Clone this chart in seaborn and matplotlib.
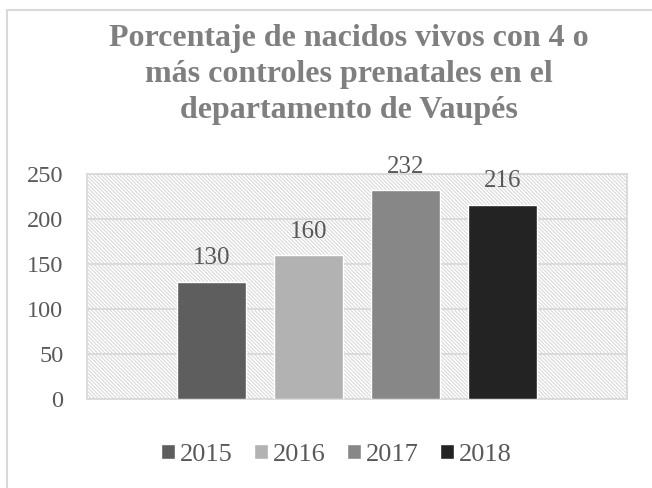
"""
Porcentaje de nacidos vivos con 4 o más controles prenatales - Vaupés
"""

import matplotlib
matplotlib.use("Agg")
import matplotlib.pyplot as plt
import matplotlib.lines as mlines
import pandas as pd
import seaborn as sns

# data
anios = ["2015", "2016", "2017", "2018"]
valores = [130, 160, 232, 216]
colores = ["#5e5e5e", "#b2b2b2", "#878787", "#232323"]
titulo = "Porcentaje de nacidos vivos con 4 o\nmás controles prenatales en el\ndepartamento de Vaupés"

GRIS_TEXTO = "#595959"
GRIS_LINEA = "#d9d9d9"

sns.set_style("white")
plt.rcParams["font.family"] = ["Liberation Serif", "DejaVu Serif"]
plt.rcParams["hatch.linewidth"] = 0.8

df = pd.DataFrame({"grupo": [""] * len(anios), "anio": anios, "valor": valores})

fig = plt.figure(figsize=(6.52, 4.88), dpi=100)
ax = fig.add_axes([87 / 652, 1 - 399 / 488, (627 - 87) / 652, (399 - 174) / 488])

# hatched plot area background
ax.patch.set_facecolor("white")
ax.patch.set_edgecolor(GRIS_LINEA)
ax.patch.set_linewidth(0)
ax.patch.set_hatch("\\" * 9)

sns.barplot(data=df, x="grupo", y="valor", hue="anio", palette=colores,
            width=0.72, gap=0.29, saturation=1, ax=ax, zorder=3)

for cont in ax.containers:
    ax.bar_label(cont, padding=9, fontsize=18, color=GRIS_TEXTO)

ax.set_xlim(-0.5, 0.5)
ax.set_ylim(0, 250)
ax.set_yticks(range(0, 251, 50))
ax.set_xticks([])
ax.set_xlabel("")
ax.set_ylabel("")
ax.tick_params(axis="y", length=0, pad=17, labelsize=17.5, labelcolor=GRIS_TEXTO)
ax.grid(axis="y", color=GRIS_LINEA, linewidth=1.3, zorder=1)
ax.set_axisbelow(True)
for s in ax.spines.values():
    s.set_visible(True)
    s.set_color(GRIS_LINEA)
    s.set_linewidth(1.3)

handles, labels = ax.get_legend_handles_labels()
ax.get_legend().remove()
fig.legend(handles, labels, ncol=4, loc="center",
           bbox_to_anchor=(336.5 / 652, 1 - 455 / 488), frameon=False,
           fontsize=19, labelcolor=GRIS_TEXTO, handlelength=0.53, handleheight=0.53,
           handletextpad=0.19, columnspacing=0.8)

fig.text(349 / 652, 1 - 74.5 / 488, titulo, ha="center", va="center",
         fontsize=23, fontweight="bold", color="#7f7f7f", linespacing=1.3)

# chart border (only left and top edges are inside the crop)
y_top = 1 - 10 / 488
x_left = 7 / 652
fig.add_artist(mlines.Line2D([x_left, x_left], [0, y_top], color=GRIS_LINEA, linewidth=1.5))
fig.add_artist(mlines.Line2D([x_left, 1], [y_top, y_top], color=GRIS_LINEA, linewidth=1.5))

fig.savefig("out.png", dpi=100)
